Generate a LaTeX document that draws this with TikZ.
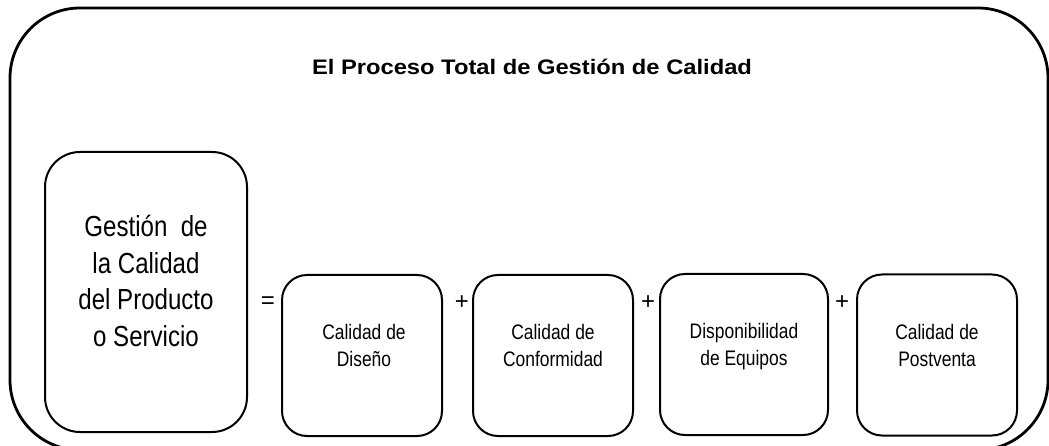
\documentclass[tikz,border=0pt]{standalone}
\usepackage{fontspec}
\setmainfont{Liberation Sans}
\newfontfamily\narrowf[FakeStretch=0.83]{Liberation Sans}
\newfontfamily\widef[FakeStretch=1.13]{Liberation Sans}
\begin{document}
\begin{tikzpicture}[x=1pt,y=-1pt,
  outerbox/.style={draw, line width=2.8pt, rounded corners=70pt, inner sep=0pt},
  bigbox/.style={draw, line width=2pt, rounded corners=35pt, inner sep=0pt, minimum width=202pt, minimum height=280pt},
  smallbox/.style={draw, line width=2pt, rounded corners=25pt, inner sep=0pt, minimum width=160pt, minimum height=161pt},
  bigtext/.style={inner sep=0pt, align=center, font=\narrowf\fontsize{29}{36.7}\selectfont},
  smalltext/.style={inner sep=0pt, align=center, font=\narrowf\fontsize{21}{27}\selectfont},
  optext/.style={inner sep=0pt, font=\fontsize{24}{28}\selectfont}
]
\useasboundingbox (0,0) rectangle (1049,446);
\node[outerbox, minimum width=1038pt, minimum height=442pt] (outer) at (529,229) {};
\node[inner sep=0pt, anchor=base, font=\widef\bfseries\fontsize{21}{25}\selectfont] (title) at (532,75) {El Proceso Total de Gestión de Calidad};

\node[bigbox] (gq) at (146,292) {};
\node[bigtext] (gqt) at (146,281) {Gestión\ \ de\\la Calidad\\del Producto\\o Servicio};

\node[smallbox] (b1) at (362,355.5) {};
\node[smallbox] (b2) at (553,355.5) {};
\node[smallbox, minimum width=168pt] (b3) at (744,354.5) {};
\node[smallbox] (b4) at (937,355) {};

\node[smalltext] (t1) at (364,345) {Calidad de\\Diseño};
\node[smalltext] (t2) at (553,345) {Calidad de\\Conformidad};
\node[smalltext] (t3) at (744,346.5) {Disponibilidad\\de Equipos};
\node[smalltext] (t4) at (937,345) {Calidad de\\Postventa};

\node[optext] (eq) at (268,303) {=};
\node[optext] (p1) at (462,303) {+};
\node[optext] (p2) at (648,303) {+};
\node[optext] (p3) at (842,303) {+};
\end{tikzpicture}
\end{document}
